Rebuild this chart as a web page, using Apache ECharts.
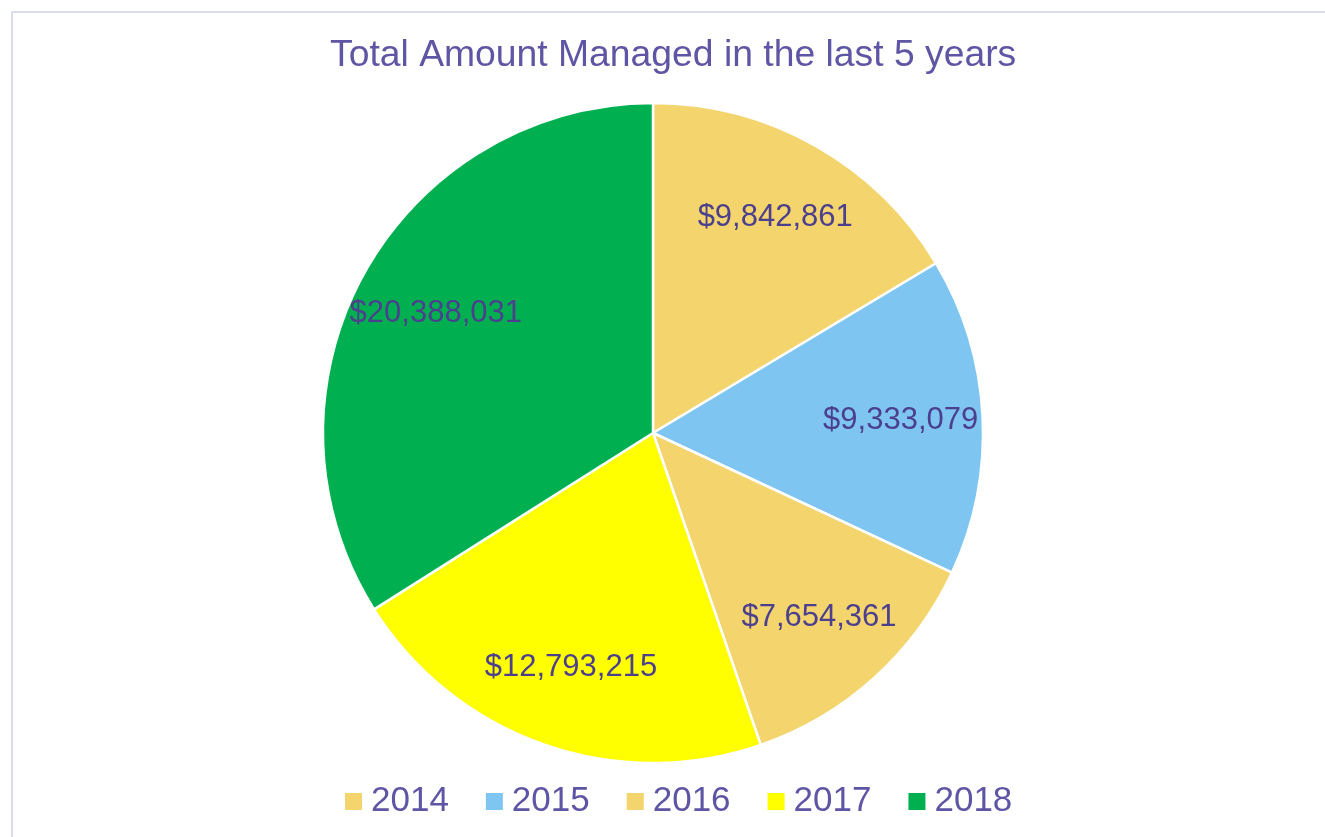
<!DOCTYPE html>
<html lang="en">
<head>
<meta charset="utf-8">
<title>Total Amount Managed in the last 5 years</title>
<script src="https://cdn.jsdelivr.net/npm/echarts@6/dist/echarts.min.js"></script>
<style type="text/css">
    html, body { margin: 0; padding: 0; background: #fff; overflow: hidden; }
    #frame { position: absolute; left: 11px; top: 11px; width: 1400px; height: 900px;
             border-left: 2px solid #DCDCF0; border-top: 2px solid #DCDCF0; }
    #main { position: absolute; left: 0; top: 0; width: 1325px; height: 837px; }
</style>
</head>
<body>
<div id="frame"></div>
<div id="main"></div>
<script type="text/javascript">
    // data
    var years = ['2014', '2015', '2016', '2017', '2018'];
    var amounts = [9842861, 9333079, 7654361, 12793215, 20388031];
    var colors = ['#F3D46D', '#7FC5F2', '#F3D46D', '#FFFF00', '#00B050'];

    var font = '"Liberation Sans", Arial, sans-serif';

    function money(v) {
        return '$' + v.toString().replace(/\B(?=(\d{3})+(?!\d))/g, ',');
    }

    var pieData = years.map(function (y, i) {
        return { name: y, value: amounts[i], itemStyle: { color: colors[i] } };
    });

    var myChart = echarts.init(document.getElementById('main'));

    var option = {
        animation: false,
        title: {
            text: 'Total Amount Managed in the last 5 years',
            left: 325,
            top: 32,
            textStyle: { color: '#5F55A5', fontFamily: font, fontSize: 37.3, fontWeight: 'normal' }
        },
        legend: {
            data: years,
            left: 338,
            top: 779,
            itemWidth: 19,
            itemHeight: 19,
            itemGap: 35,
            icon: 'rect',
            textStyle: { color: '#5F55A5', fontFamily: font, fontSize: 35, padding: [0, 0, 0, 3] }
        },
        series: [{
            // the slices
            type: 'pie',
            center: [653, 433],
            radius: [0, 330],
            startAngle: 90,
            clockwise: true,
            silent: true,
            label: { show: false },
            labelLine: { show: false },
            itemStyle: { borderColor: '#ffffff', borderWidth: 2.5 },
            data: pieData
        }, {
            // invisible twin so labels sit near the rim, as in the original
            type: 'pie',
            center: [653, 433],
            radius: [0, 490],
            startAngle: 90,
            clockwise: true,
            silent: true,
            itemStyle: { color: 'rgba(0,0,0,0)', borderWidth: 0 },
            label: {
                show: true,
                position: 'inside',
                color: '#4B3F8E',
                fontFamily: font,
                fontSize: 31,
                formatter: function (p) { return money(p.value); }
            },
            labelLine: { show: false },
            data: years.map(function (y, i) { return { name: y, value: amounts[i] }; })
        }]
    };

    myChart.setOption(option);
</script>
</body>
</html>
